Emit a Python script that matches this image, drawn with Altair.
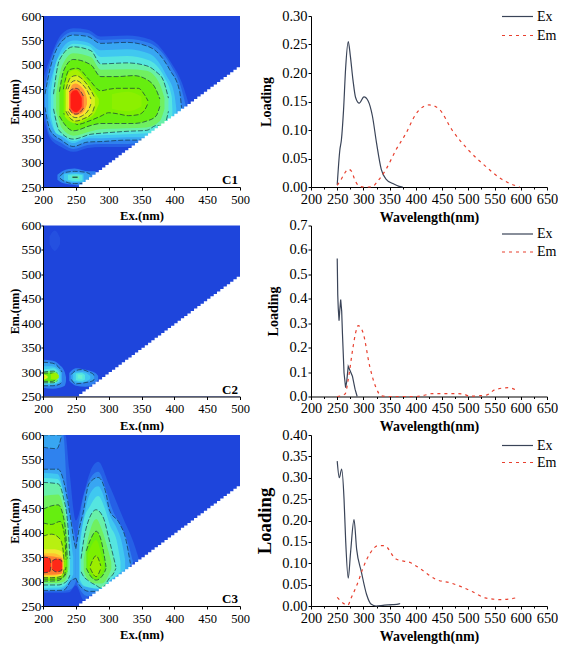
import altair as alt
import pandas as pd

FONT = "Liberation Serif"
BG = "#1e45dc"
c1, c2, c3, c4, c5, c6, c7, c8 = ("#2560e6", "#2f82ee", "#38a6f2", "#40c8f0",
                                  "#55e5e0", "#68f0a8", "#70f060", "#66ee10")

# Each contour: (fill colour, outlined?, [(Ex, Em low, Em high), ...])
C1_MAIN = [
 (c1, False, [(200,400,470),(210,352,510),(228,332,562),(246,322,575),(268,330,572),(288,332,558),(328,332,560),(363,340,552),(395,340,505),(412,340,462),(424,340,410)]),
 (c2, False, [(202,410,450),(210,358,500),(228,340,554),(246,328,568),(268,336,565),(288,338,551),(328,338,553),(363,340,544),(395,340,498),(410,340,455),(418,340,412)]),
 (c3, True,  [(203,413,440),(211,366,493),(228,346,547),(246,333,561),(268,342,558),(288,343,544),(328,346,546),(363,346,536),(393,346,490),(408,346,446),(411,346,412)]),
 (c4, False, [(208,400,450),(216,368,488),(230,352,535),(246,340,550),(268,350,546),(288,350,530),(328,352,532),(363,352,522),(388,352,478),(400,352,440),(403,352,410)]),
 (c5, False, [(212,395,445),(220,360,505),(232,353,528),(246,344,543),(270,354,538),(288,356,516),(328,358,518),(360,360,510),(385,362,474),(396,370,435),(397,395,410)]),
 (c6, True,  [(216,410,440),(225,365,510),(246,348,537),(273,358,529),(288,360,502),(328,364,504),(358,366,498),(373,376,485),(383,372,469),(391,405,432)]),
 (c7, False, [(220,405,440),(229,370,498),(246,355,524),(273,364,516),(288,368,490),(328,370,491),(358,372,488),(378,385,460),(385,410,432)]),
 (c8, True,  [(225,395,445),(232,380,490),(246,365,511),(273,376,500),(288,380,476),(313,380,476),(338,380,478),(358,385,470),(372,395,450),(378,415,430)]),
 ("#7cf000", True, [(231,400,450),(240,395,490),(252,378,493),(270,385,470),(288,395,447),(300,402,450),(313,400,452),(330,396,452),(345,398,452),(355,408,438),(360,422,426)]),
 ("#8cf000", False, [(305,410,440),(330,405,445),(350,415,435)]),
]
C1_PEAK = [
 ("#a8f000", False, [(233,395,460),(240,385,485),(250,380,490),(265,388,470),(278,400,445),(285,420,430)]),
 ("#d8f020", True,  [(235,405,450),(242,390,474),(250,385,478),(262,390,468),(274,400,445),(279,418,432)]),
 ("#ffe030", True,  [(238,405,450),(244,395,465),(250,392,468),(260,396,460),(270,410,440),(273,420,430)]),
 ("#ff9c38", False, [(240,408,445),(245,400,460),(250,397,462),(258,400,455),(265,412,440),(267,420,430)]),
 ("#ff6030", True,  [(240,410,445),(244,402,450),(250,399,452),(256,402,448),(262,412,435)]),
 ("#ff1c14", False, [(242,412,440),(246,405,447),(251,403,448),(255,407,442),(259,415,432)]),
]
C1_SMALL = [
 (c2, False, [(222,265,275),(230,258,283),(248,254,288),(270,250,282),(280,270,282)]),
 (c3, True,  [(226,268,272),(232,262,279),(248,257,282),(265,258,280),(272,270,276)]),
 (c4, False, [(232,265,276),(248,260,278),(262,260,276)]),
 (c5, False, [(238,265,275),(250,262,276),(260,264,274)]),
 (c6, False, [(244,268,273),(255,266,272)]),
 (c6, True,  [(245,270,270),(255,270,270)]),
]
C2_ALL = [
 ("#2450e0", False, [(210,562,578),(218,548,590),(226,562,575)]),
 (c2, False, [(200,268,325),(215,266,323),(225,268,315),(233,272,300),(235,280,290)]),
 (c3, True,  [(200,272,320),(215,272,318),(225,275,308),(229,280,300)]),
 (c4, False, [(200,274,312),(213,274,312),(224,278,305),(227,282,298)]),
 (c5, False, [(200,276,305),(216,276,308),(224,280,300)]),
 (c7, True,  [(200,278,300),(216,278,302),(222,282,298)]),
 (c8, True,  [(200,281,298),(214,281,298),(220,285,295)]),
 ("#9cf000", False, [(212,286,296),(218,285,298),(224,288,294)]),
 ("#e0f020", False, [(200,284,296),(204,286,294),(207,288,292)]),
 ("#ff8030", False, [(200,288,292),(202,289,291)]),
 (c2, False, [(240,282,298),(250,272,308),(265,270,305),(280,278,298),(284,285,292)]),
 (c3, True,  [(243,285,295),(250,276,303),(258,277,305),(270,280,300),(277,283,295),(278,288,290)]),
 (c4, False, [(246,282,298),(258,279,300),(268,283,296),(272,286,292)]),
 (c5, False, [(250,284,297),(258,282,298),(264,285,294)]),
 ("#68f0d0", False, [(253,287,295),(260,286,294)]),
]
C3_LEFT = [
 (c1, False, [(200,277,600),(234,277,600),(240,278,530),(250,292,425),(262,262,480),(272,272,525),(284,280,545),(300,300,500),(322,322,430),(340,340,372),(346,340,346)]),
 (c2, False, [(200,280,600),(231,280,600),(236,282,500),(243,285,430),(250,300,385),(254,320,350)]),
 (c3, True,  [(200,575,600),(221,572,600),(228,597,600)]),
 (c3, True,  [(200,282,530),(223,282,530),(231,282,508),(237,290,470),(243,303,420),(247,305,385),(250,307,367)]),
 (c4, False, [(200,284,522),(222,284,520),(231,287,485),(238,296,430),(243,306,380),(246,315,350)]),
 (c5, False, [(200,287,512),(222,288,510),(230,290,485),(237,298,425),(240,315,350)]),
 (c6, True,  [(200,293,503),(223,293,500),(231,296,473),(238,304,413),(241,313,347)]),
 (c7, False, [(200,297,475),(223,297,478),(232,300,445),(237,315,400),(239,330,345)]),
 (c8, True,  [(200,301,448),(213,301,455),(223,302,457),(233,312,420),(237,320,347)]),
 ("#88f000", True, [(200,305,420),(213,305,417),(226,306,423),(233,315,393),(235,330,345)]),
 ("#b8f010", True, [(200,308,393),(213,308,397),(226,310,387),(231,318,360),(232,327,340)]),
 ("#f0e830", False, [(200,310,366),(215,310,366),(228,312,362),(231,325,345)]),
 ("#ffc030", False, [(200,312,358),(215,312,358),(229,316,350),(231,325,340)]),
 ("#ff8030", False, [(200,314,354),(212,314,352),(228,316,348),(230,325,340)]),
 ("#ff2818", True,  [(200,318,350),(210,320,348),(212,330,338)]),
 ("#ff2818", True,  [(214,325,342),(220,320,346),(228,322,344),(229,330,336)]),
]
C3_RIGHT = [
 (c2, False, [(252,295,395),(258,280,450),(268,270,500),(284,278,525),(298,295,480),(305,305,450),(318,318,415),(328,328,385),(337,337,340)]),
 (c3, True,  [(250,307,367),(254,296,400),(261,285,440),(270,280,500),(284,280,513),(296,280,480),(301,290,447),(316,300,420),(326,310,387),(333,320,337)]),
 (c4, False, [(255,300,380),(262,290,430),(270,288,475),(284,285,495),(295,290,465),(302,303,435),(312,312,410),(320,320,380),(325,325,345)]),
 (c5, False, [(256,305,370),(262,292,425),(272,288,455),(284,286,475),(294,290,450),(302,302,415),(312,312,385),(318,320,340)]),
 (c6, True,  [(258,320,347),(262,310,385),(268,303,420),(281,292,447),(288,287,440),(293,290,427),(300,305,390),(308,318,347),(311,327,330)]),
 (c7, False, [(262,322,345),(268,305,385),(281,296,428),(290,296,405),(298,308,370),(304,325,340)]),
 (c8, True,  [(266,327,363),(272,312,385),(281,303,403),(288,308,387),(294,320,347),(296,327,330)]),
 ("#7cf000", False, [(268,325,355),(281,306,385),(290,320,350),(293,328,335)]),
 ("#9cee00", True,  [(272,327,332),(281,310,353),(288,327,332)]),
]
MASK_EX = list(range(250, 505, 5))

# Loading curves
P1_EX = [(250,.004),(255,.065),(258,.083),(262,.134),(266,.208),(271,.255),(275,.23),(280,.188),(285,.157),(292,.147),(301,.158),(309,.151),(317,.125),(325,.077),(334,.031),(343,.014),(356,.006),(368,.001),(375,0)]
P1_EM = [(250,.003),(258,.014),(264,.024),(271,.031),(277,.028),(283,.014),(290,.003),(300,0),(310,0),(318,.001),(326,.009),(343,.031),(362,.065),(381,.094),(400,.128),(425,.144),(444,.137),(469,.1),(500,.065),(532,.037),(563,.014),(588,.003),(598,0)]
P2_EX = [(250,.565),(251,.417),(252,.36),(253.5,.31),(255,.357),(256.6,.397),(258.5,.35),(260,.256),(263,.096),(266,.036),(268,.06),(271,.123),(275,.103),(279,.083),(284,.03),(288,0)]
P2_EM = [(250,0),(265,.01),(271,.07),(280,.2),(285,.26),(290,.29),(299,.263),(312,.123),(324,.036),(334,.003),(350,0),(400,0),(416,.005),(431,.012),(450,.012),(470,.012),(490,.01),(503,.001),(520,.003),(535,.006),(551,.028),(576,.036),(595,.022)]
P3_EX = [(250,.339),(254,.30),(258.5,.32),(263,.25),(266,.156),(271,.065),(275.5,.126),(282,.202),(287,.133),(296,.08),(306,.027),(315,.004),(324,0),(340,.002),(355,.003),(368,.005),(370,.006)]
P3_EM = [(250,.02),(265,.004),(270,.002),(277,.02),(290,.057),(299,.088),(312,.122),(328,.141),(340,.141),(362,.11),(390,.101),(412,.084),(437,.063),(469,.053),(507,.034),(532,.019),(563,.015),(595,.02)]

W_L, W_R, H = 197, 236, 171
XS_L = alt.Scale(domain=[200, 500], nice=False)
YS_L = alt.Scale(domain=[250, 600], nice=False)
ONE = pd.DataFrame({"a": [0]})


def eem(shapes, tag):
    x_axis = alt.Axis(values=list(range(200, 501, 50)), title="Ex.(nm)", format="d", labelFontSize=12.5,
                      titleFontSize=12.7, tickSize=3, labelPadding=3, titlePadding=4, labelFlush=False, zindex=1)
    y_axis = alt.Axis(values=list(range(250, 601, 50)), title="Em.(nm)", format="d", labelFontSize=13.3,
                      titleFontSize=12, tickSize=2, labelPadding=0, titlePadding=0, zindex=1)
    X = alt.X("ex:Q", scale=XS_L, axis=x_axis)
    bg = alt.Chart(pd.DataFrame({"ex": [200], "b": [500], "c": [250], "d": [600]})).mark_rect(color=BG).encode(
        x=X, x2="b:Q", y=alt.Y("c:Q", scale=YS_L, axis=y_axis), y2="d:Q")
    layers = [bg]
    for color, outlined, pts in shapes:
        df = pd.DataFrame(pts, columns=["ex", "lo", "hi"])
        layers.append(alt.Chart(df).mark_area(color=color, interpolate="monotone", opacity=1, clip=True).encode(
            x=X, y=alt.Y("hi:Q", scale=YS_L, axis=y_axis), y2="lo:Q"))
        if outlined:
            for col in ("hi", "lo"):
                layers.append(alt.Chart(df).mark_line(color="#123040", strokeWidth=0.8, strokeDash=[5, 2],
                                                      interpolate="monotone", opacity=0.85, clip=True).encode(
                    x=X, y=alt.Y(col + ":Q", scale=YS_L, axis=y_axis)))
    mask = alt.Chart(pd.DataFrame({"ex": MASK_EX, "base": [250] * len(MASK_EX)})).mark_area(
        color="white", interpolate="step-after", opacity=1, clip=True).encode(
        x=X, y=alt.Y("ex:Q", scale=YS_L, axis=y_axis), y2="base:Q")
    layers.append(mask)
    layers.append(alt.Chart(ONE).mark_text(text=tag, font=FONT, fontWeight="bold", fontSize=13, align="right",
                                           baseline="bottom", color="black").encode(
        x=alt.value(W_L - 2), y=alt.value(H - 0)))
    return alt.layer(*layers).properties(width=W_L, height=H)


def curves(ex, em, ymax, step, fmt, title_size, title_pad, leg1, leg2, interp):
    xs = alt.Scale(domain=[200, 650], nice=False)
    ys = alt.Scale(domain=[0, ymax], nice=False)
    n = int(round(ymax / step))
    x_axis = alt.Axis(values=list(range(200, 651, 25)), title="Wavelength(nm)", format="d",
                      labelExpr="datum.value % 50 == 0 ? datum.label : ''", labelOverlap=False,
                      labelFontSize=14.4, titleFontSize=14, labelPadding=2, titlePadding=5, labelFlush=False,
                      tickSize={"condition": {"test": "datum.value % 50 == 0", "value": 3}, "value": 2})
    y_axis = alt.Axis(values=[round(i * step, 3) for i in range(n + 1)], title="Loading", format=fmt,
                      labelFontSize=14.5, titleFontSize=title_size, tickSize=3, labelPadding=1,
                      titlePadding=title_pad)
    dfx = pd.DataFrame(ex, columns=["w", "v"])
    dfm = pd.DataFrame(em, columns=["w", "v"])
    X = alt.X("w:Q", scale=xs, axis=x_axis)
    Y = alt.Y("v:Q", scale=ys, axis=y_axis)
    a = alt.Chart(dfx).mark_line(color="#3a4458", strokeWidth=1.2, interpolate=interp).encode(x=X, y=Y)
    b = alt.Chart(dfm).mark_line(color="#e8402f", strokeWidth=1.2, strokeDash=[3, 4], interpolate="monotone").encode(x=X, y=Y)
    r1 = alt.Chart(ONE).mark_rule(color="#3a4458", strokeWidth=1.2).encode(
        x=alt.value(191), x2=alt.value(222), y=alt.value(leg1))
    r2 = alt.Chart(ONE).mark_rule(color="#e8402f", strokeWidth=1.2, strokeDash=[3, 4]).encode(
        x=alt.value(191), x2=alt.value(222), y=alt.value(leg2))
    t1 = alt.Chart(ONE).mark_text(text="Ex", font=FONT, fontSize=14, align="left", baseline="middle", color="black").encode(
        x=alt.value(226), y=alt.value(leg1))
    t2 = alt.Chart(ONE).mark_text(text="Em", font=FONT, fontSize=14, align="left", baseline="middle", color="black").encode(
        x=alt.value(226), y=alt.value(leg2))
    return alt.layer(a, b, r1, r2, t1, t2).properties(width=W_R, height=H)


chart = alt.concat(
    eem(C1_MAIN + C1_PEAK + C1_SMALL, "C1"),
    curves(P1_EX, P1_EM, .30, .05, ".2f", 14, 8, 0.5, 19.5, "monotone"),
    eem(C2_ALL, "C2"),
    curves(P2_EX, P2_EM, .7, .1, ".1f", 14, 8, 8.5, 26.5, "linear"),
    eem(C3_LEFT + C3_RIGHT, "C3"),
    curves(P3_EX, P3_EM, .40, .05, ".2f", 18.7, 7, 10.5, 27.5, "monotone"),
    columns=2, spacing={"row": 38.5, "column": 71}, bounds="flush",
).properties(padding=0).configure_view(stroke=None).configure_axis(
    labelFont=FONT, titleFont=FONT, titleFontWeight="bold", labelColor="black", titleColor="black",
    domainColor="black", tickColor="black", grid=False, domainWidth=1, tickWidth=1)
chart.save("out.html", embed_options={"renderer": "svg", "actions": False})
